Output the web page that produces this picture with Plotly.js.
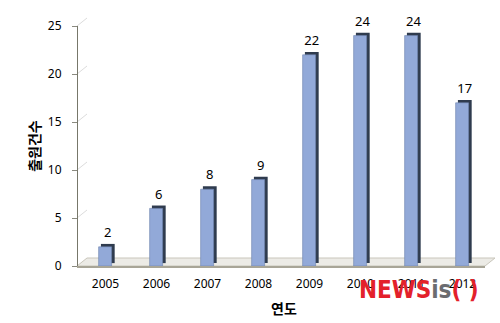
<!DOCTYPE html>
<html><head><meta charset="utf-8">
<script src="https://cdn.plot.ly/plotly-3.0.1.min.js"></script>
<style>html,body{margin:0;padding:0;background:#fff}#c{width:500px;height:323px}</style>
</head><body><div id="c"></div>
<script>
const years = ['2005','2006','2007','2008','2009','2010','2011','2012'];
const counts = [2, 6, 8, 9, 22, 24, 24, 17];
const yTicks = [0, 5, 10, 15, 20, 25];

// geometry (pixels)
const L = 77, R = 5, T = 18, B = 57, W = 500, H = 323;
const pw = W - L - R, ph = H - T - B;
const dx = 10, dy = 8; // 3D depth offset
const depth = 0.3;      // data-units lift for the dark side/top

const font = {family: 'Noto Sans, Noto Sans CJK KR, sans-serif', size: 12, color: '#000'};

const dark = {
  type: 'bar', x: years, y: counts, base: depth, xaxis: 'x2', yaxis: 'y2',
  offset: -0.09, width: 0.27,
  marker: {color: '#2f3b4e', line: {width: 0}},
  text: counts.map(String), textposition: 'outside', constraintext: 'none',
  textfont: {family: font.family, size: 13, color: '#000'},
  cliponaxis: false, hoverinfo: 'skip'
};
const front = {
  type: 'bar', x: years, y: counts, xaxis: 'x2', yaxis: 'y2',
  offset: -0.135, width: 0.255,
  marker: {color: '#92a9d8', line: {width: 0.6, color: '#6f84ae'}},
  hoverinfo: 'x+y'
};

const shapes = [];
// floor slab
shapes.push({type: 'path', xref: 'paper', yref: 'paper', layer: 'below',
  path: `M 0 0 L ${dx/pw} ${dy/ph} L 1 ${dy/ph} L ${(pw-dx)/pw} 0 Z`,
  fillcolor: '#ecebe6', line: {color: '#c9c6bb', width: 1}});
shapes.push({type: 'line', xref: 'paper', yref: 'paper', layer: 'below',
  x0: 0, x1: (pw-dx)/pw, y0: -1/ph, y1: -1/ph, line: {color: '#a8a597', width: 2}});
// diagonals from axis ticks to back-wall gridlines
yTicks.slice(1).forEach(v => {
  const yf = v / 25 * (ph - dy) / ph;
  shapes.push({type: 'line', xref: 'paper', yref: 'paper', layer: 'below',
    x0: 0, x1: dx/pw, y0: yf, y1: yf + dy/ph, line: {color: '#dcdcdc', width: 1}});
});

const layout = {
  width: W, height: H, margin: {l: L, r: R, t: T, b: B},
  paper_bgcolor: '#fff', plot_bgcolor: 'rgba(0,0,0,0)',
  showlegend: false, barmode: 'overlay', font: font,
  // back wall (gridlines)
  xaxis: {domain: [dx/pw, 1], range: [0, 1], visible: false, anchor: 'y', fixedrange: true},
  yaxis: {domain: [dy/ph, 1], range: [0, 25], tickvals: yTicks, showgrid: true,
    gridcolor: '#d9d9d9', gridwidth: 1, showticklabels: false, zeroline: false,
    showline: false, ticks: '', anchor: 'x'},
  // front axes with bars
  xaxis2: {domain: [3/pw, 411/pw], type: 'category', anchor: 'y2', showline: false,
    ticks: '', showgrid: false, tickfont: font, ticklabelstandoff: 9,
    title: {text: '연도', font: {family: font.family, size: 14, color: '#000', weight: 'bold'}, standoff: 13}},
  yaxis2: {domain: [0, (ph-dy)/ph], range: [0, 25], tickvals: yTicks, anchor: 'free', position: 0,
    showline: true, linecolor: '#77776a', linewidth: 1.3, ticks: 'outside', ticklen: 5,
    tickcolor: '#8a8a80', showgrid: false, zeroline: false, tickfont: font, ticklabelstandoff: 8,
    title: {text: '출원건수', font: {family: font.family, size: 14, color: '#000', weight: 'bold'}, standoff: 2}},
  shapes: shapes,
  annotations: [{
    xref: 'paper', yref: 'paper', x: (419 - L)/pw, y: (266 - 290)/ph, xanchor: 'center', yanchor: 'middle',
    showarrow: false,
    text: '<b><span style="color:#e3212b">NEWS</span><span style="color:#6b6c70">is</span><span style="color:#e3212b">( )</span></b>',
    font: {family: 'Liberation Sans Narrow, DejaVu Sans Condensed, sans-serif', size: 24}
  }]
};

Plotly.newPlot('c', [dark, front], layout, {displayModeBar: false, staticPlot: true});
</script></body></html>
